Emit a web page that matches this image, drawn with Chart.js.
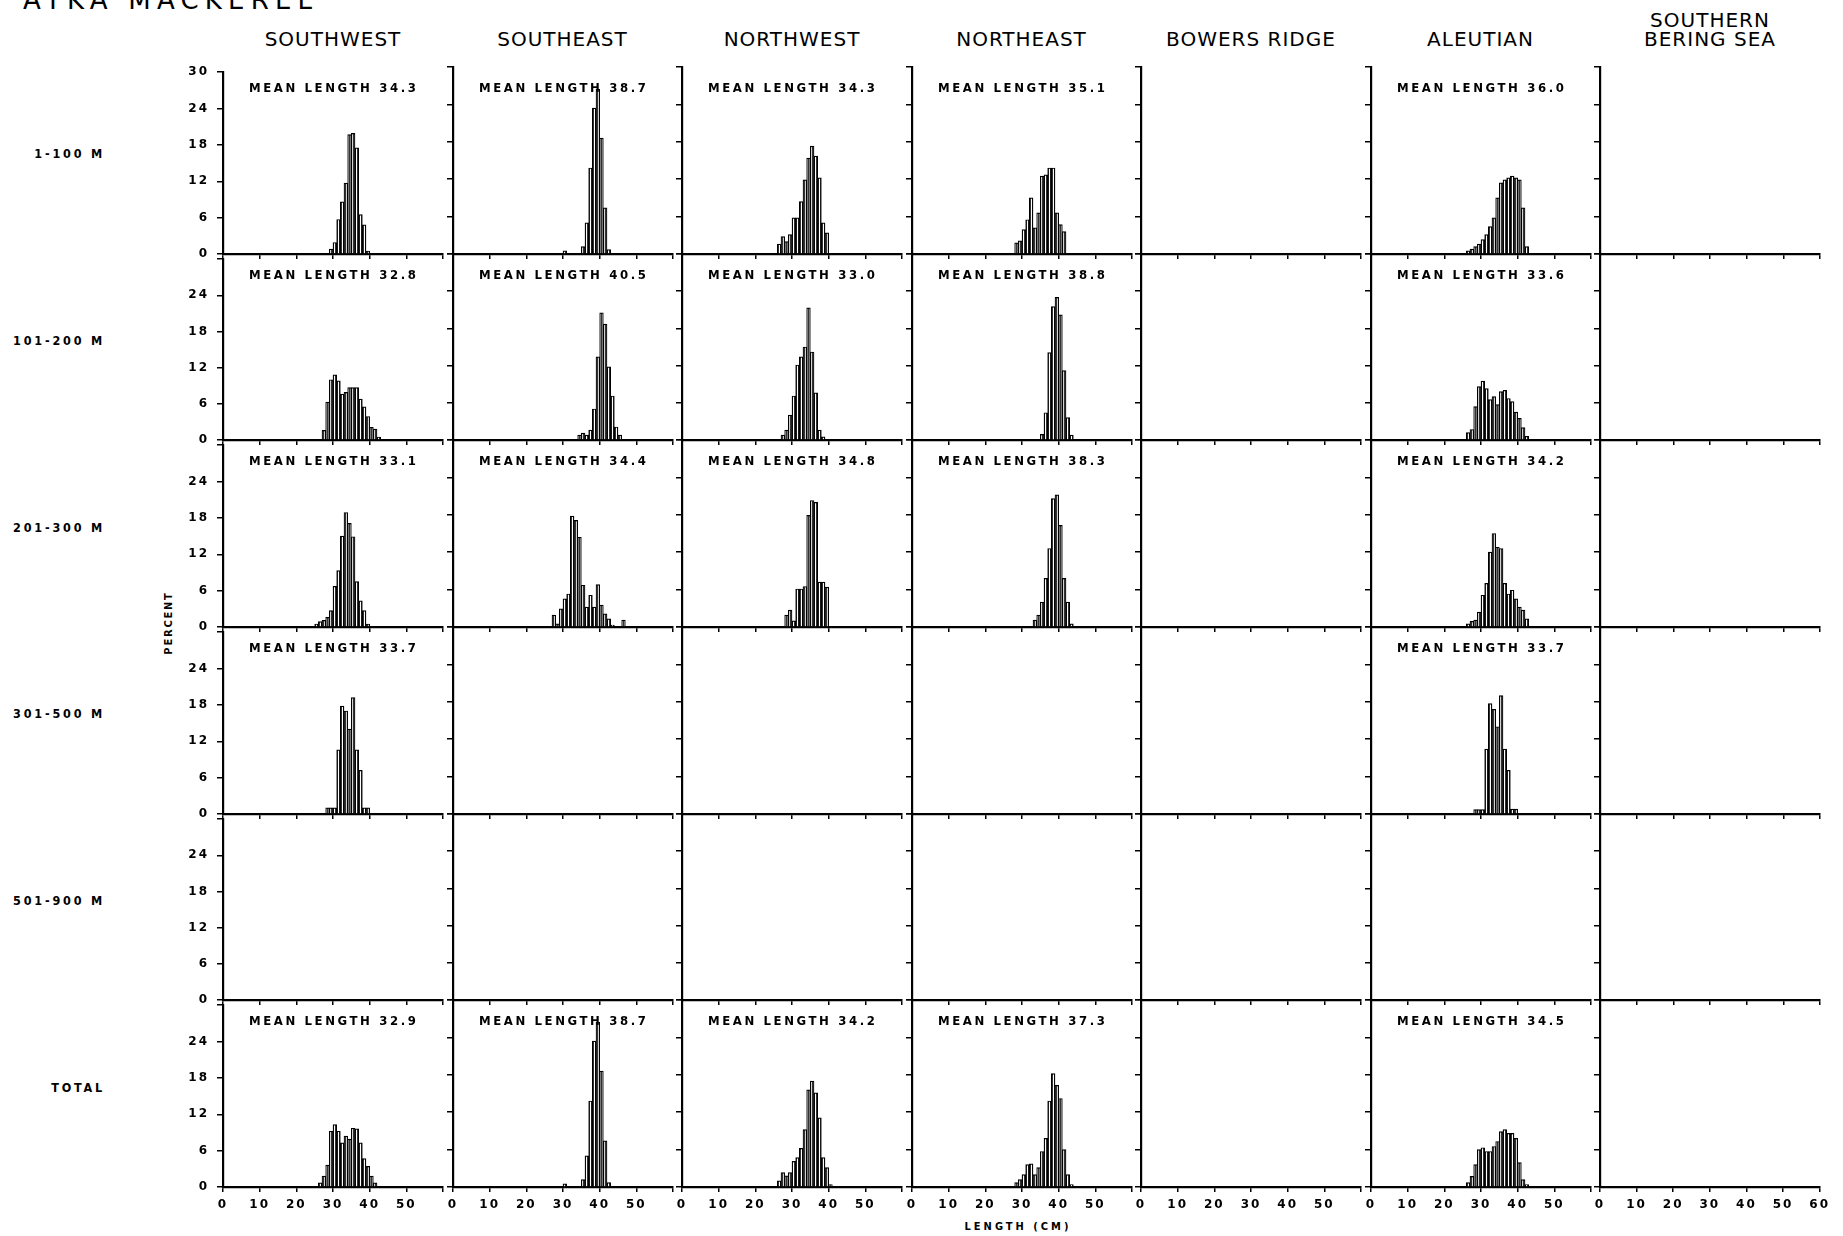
<!DOCTYPE html>
<html>
<head>
<meta charset="utf-8">
<script src="https://cdn.jsdelivr.net/npm/chart.js@4.4.1/dist/chart.umd.min.js"></script>
<style>
  html, body { margin: 0; padding: 0; background: #fff; }
  body { width: 1843px; height: 1236px; position: relative; overflow: hidden; color: #000;
         font-family: 'DejaVu Sans Condensed', 'DejaVu Sans', sans-serif; }
  canvas { position: absolute; }
  .t { position: absolute; white-space: nowrap; line-height: 1; }
  .head { font-family: 'DejaVu Sans', sans-serif; font-size: 20px; letter-spacing: 1px; text-align: center; }
  .small { font-weight: bold; font-size: 12.5px; letter-spacing: 2.8px; }
</style>
</head>
<body>
<script>
// regions (columns) and depth strata (rows)
const regions = ['SOUTHWEST', 'SOUTHEAST', 'NORTHWEST', 'NORTHEAST', 'BOWERS RIDGE', 'ALEUTIAN', 'SOUTHERN\nBERING SEA'];
const depths = ['1-100 M', '101-200 M', '201-300 M', '301-500 M', '501-900 M', 'TOTAL'];
const lengthTicks = [0, 10, 20, 30, 40, 50, 60];
const percentTicks = [0, 6, 12, 18, 24, 30];

// length frequencies: lower bound (cm) of the first 1-cm class, then percent per class
const sw1 = { from: 29, pct: [0.8, 1.9, 5.7, 8.6, 11.7, 19.7, 19.9, 17.5, 6.5, 4.8, 0.5] };
const se1 = { from: 30, pct: [0.5, 0, 0, 0, 0, 1.2, 5.0, 13.8, 23.4, 26.4, 18.6, 7.4, 0.7] };
const nw1 = { from: 26, pct: [1.6, 2.8, 2.0, 3.1, 5.8, 5.8, 8.4, 11.9, 15.4, 17.3, 15.7, 12.2, 5.0, 3.4] };
const ne1 = { from: 28, pct: [1.8, 2.1, 3.9, 5.5, 9.0, 4.2, 6.6, 12.5, 12.7, 13.8, 13.8, 6.6, 4.7, 3.6] };
const al1 = { from: 26, pct: [0.5, 0.8, 1.2, 1.6, 2.3, 3.1, 4.4, 5.8, 9.0, 11.4, 11.9, 12.2, 12.5, 12.2, 11.9, 7.4, 1.2] };

const sw2 = { from: 27, pct: [1.6, 6.3, 10.0, 10.8, 9.8, 7.6, 7.9, 8.7, 8.7, 8.7, 6.8, 5.5, 3.9, 2.1, 1.8, 0.5] };
const se2 = { from: 34, pct: [0.8, 1.1, 0.8, 1.6, 5.0, 13.4, 20.5, 18.7, 11.8, 7.1, 2.1, 0.8] };
const nw2 = { from: 27, pct: [0.8, 1.6, 4.0, 7.1, 12.1, 13.4, 15.0, 21.3, 14.2, 7.6, 1.6, 0.5] };
const ne2 = { from: 35, pct: [0.9, 4.4, 14.1, 21.5, 23.0, 20.2, 11.2, 3.6, 0.8] };
const al2 = { from: 26, pct: [1.2, 1.7, 5.4, 8.6, 9.5, 8.3, 6.5, 7.0, 5.7, 7.8, 8.0, 6.7, 6.2, 4.5, 3.5, 2.0, 0.6] };

const sw3 = { from: 25, pct: [0.5, 0.9, 1.1, 1.6, 2.7, 6.7, 9.3, 15.0, 18.9, 17.1, 14.9, 7.5, 4.3, 2.7, 0.5] };
const se3 = { from: 27, pct: [1.9, 0.5, 2.9, 4.5, 5.3, 17.8, 17.1, 14.4, 6.7, 3.2, 5.1, 3.2, 6.8, 3.5, 2.1, 1.3, 0.3, 0, 0, 1.1] };
const nw3 = { from: 28, pct: [1.9, 2.7, 1.0, 6.1, 6.1, 6.5, 17.9, 20.3, 20.0, 7.2, 7.2, 6.4] };
const ne3 = { from: 33, pct: [1.1, 1.9, 4.0, 7.8, 12.6, 20.6, 21.2, 16.3, 7.8, 4.0, 0.5] };
const al3 = { from: 26, pct: [0.5, 0.9, 1.1, 2.4, 5.1, 7.0, 12.0, 15.0, 12.8, 12.6, 7.0, 5.3, 5.9, 4.5, 3.2, 2.7, 1.3] };

const sw4 = { from: 28, pct: [1.0, 1.0, 1.0, 10.6, 17.8, 17.0, 14.0, 19.2, 10.6, 7.2, 1.0, 1.0] };
const al4 = { from: 28, pct: [0.7, 0.7, 0.7, 10.4, 17.7, 16.8, 14.0, 19.0, 10.4, 7.0, 0.8, 0.8] };

const swT = { from: 26, pct: [0.7, 1.8, 3.6, 9.2, 10.3, 9.2, 7.3, 8.4, 7.9, 9.7, 9.6, 7.3, 4.7, 3.4, 1.8, 0.7] };
const seT = { from: 30, pct: [0.5, 0, 0, 0, 0, 1.2, 5.0, 13.8, 23.4, 26.4, 18.6, 7.4, 0.7] };
const nwT = { from: 26, pct: [1.0, 2.3, 1.8, 2.3, 4.1, 4.7, 6.2, 9.2, 15.6, 17.0, 15.1, 11.1, 4.7, 3.1, 0.4] };
const neT = { from: 28, pct: [0.7, 1.2, 2.0, 3.6, 3.7, 2.0, 3.1, 5.7, 7.8, 13.8, 18.2, 16.3, 14.2, 6.0, 2.0, 0.4] };
const alT = { from: 26, pct: [0.7, 1.7, 3.6, 6.0, 6.3, 5.7, 5.7, 6.5, 7.3, 8.9, 9.2, 8.6, 8.6, 7.8, 3.9, 1.2, 0.4] };

const panels = [
  [sw1, se1, nw1, ne1, null, al1, null],
  [sw2, se2, nw2, ne2, null, al2, null],
  [sw3, se3, nw3, ne3, null, al3, null],
  [sw4, null, null, null, null, al4, null],
  [null, null, null, null, null, null, null],
  [swT, seT, nwT, neT, null, alT, null]
];
const meanLengths = [
  ['34.3', '38.7', '34.3', '35.1', null, '36.0', null],
  ['32.8', '40.5', '33.0', '38.8', null, '33.6', null],
  ['33.1', '34.4', '34.8', '38.3', null, '34.2', null],
  ['33.7', null, null, null, null, '33.7', null],
  [null, null, null, null, null, null, null],
  ['32.9', '38.7', '34.2', '37.3', null, '34.5', null]
];

// page geometry
const X0 = 223, COL_STEP = 229.5, PLOT_W = 220;
const Y0 = 67, ROW_H = 186.67;
const PAD_L = 48, PAD_R = 14, PAD_T = 10, PAD_B = 34;
const tickFont = { family: "'DejaVu Sans', sans-serif", size: 12, weight: 'bold' };

// vertical hatching used inside the bars
const hatchCanvas = document.createElement('canvas');
hatchCanvas.width = 2; hatchCanvas.height = 4;
const hctx = hatchCanvas.getContext('2d');
hctx.fillStyle = '#fff'; hctx.fillRect(0, 0, 2, 4);
hctx.fillStyle = '#333'; hctx.fillRect(0, 0, 1, 4);
const hatch = hctx.createPattern(hatchCanvas, 'repeat');

// spaced-out plotter lettering for the tick labels
const spacedText = {
  id: 'spacedText',
  beforeDraw(chart) { chart.ctx.letterSpacing = '2px'; }
};

function text(str, x, y, cls, anchor, extra) {
  const d = document.createElement('div');
  d.className = 't ' + cls;
  d.textContent = str;
  d.style.left = x + 'px';
  d.style.top = y + 'px';
  d.style.transform = anchor || 'translate(-50%, -50%)';
  if (extra) Object.assign(d.style, extra);
  document.body.appendChild(d);
  return d;
}

// each class is drawn centred in its 1-cm interval
function toPoints(h) {
  if (!h) return [];
  return h.pct.map((p, i) => ({ x: h.from + i + 0.5, y: p }));
}

// title (cut off at the top edge in the original)
text('ATKA MACKEREL', 23, -13, '', 'none', { fontSize: '26px', letterSpacing: '6.2px', fontFamily: "'DejaVu Sans', sans-serif" });

// column headers
regions.forEach((name, c) => {
  const cx = X0 + c * COL_STEP + PLOT_W / 2;
  const d = text(name, cx, name.includes('\n') ? 30 : 39, 'head');
  d.style.whiteSpace = 'pre';
  d.style.lineHeight = '19px';
});

// row labels
depths.forEach((name, r) => {
  const cy = Y0 + (r + 0.5) * ROW_H - 6;
  text(name, 105, cy, 'small', 'translate(-100%, -50%)');
});

text('PERCENT', 168, 623, 'small', 'translate(-50%, -50%) rotate(-90deg)', { fontSize: '11px', letterSpacing: '1.8px' });
text('LENGTH (CM)', 1018, 1226, 'small', 'translate(-50%, -50%)', { fontSize: '11px', letterSpacing: '3px' });

for (let r = 0; r < depths.length; r++) {
  for (let c = 0; c < regions.length; c++) {
    const left = Math.round(X0 + c * COL_STEP);
    const top = Math.round(Y0 + r * ROW_H);
    const h = Math.round(Y0 + (r + 1) * ROW_H) - top;
    const W = PAD_L + PLOT_W + PAD_R, H = PAD_T + h + PAD_B;

    const cv = document.createElement('canvas');
    cv.width = W; cv.height = H;
    cv.style.width = W + 'px'; cv.style.height = H + 'px';
    cv.style.left = (left - PAD_L) + 'px';
    cv.style.top = (top - PAD_T) + 'px';
    document.body.appendChild(cv);

    const bottomRow = r === depths.length - 1;
    const lastCol = c === regions.length - 1;

    new Chart(cv, {
      type: 'bar',
      data: {
        datasets: [{
          data: toPoints(panels[r][c]),
          backgroundColor: hatch,
          borderColor: '#000',
          borderWidth: 1.2,
          barPercentage: 1,
          categoryPercentage: 1
        }]
      },
      plugins: [spacedText],
      options: {
        responsive: false,
        animation: false,
        events: [],
        layout: { padding: { left: 0, top: PAD_T, right: PAD_R, bottom: 0 } },
        plugins: { legend: { display: false }, tooltip: { enabled: false } },
        scales: {
          x: {
            type: 'linear', min: 0, max: 60, offset: false,
            grid: { offset: false, drawOnChartArea: false, tickLength: 5, color: '#000', lineWidth: 1.5 },
            border: { display: true, color: '#000', width: 2.2 },
            afterBuildTicks: s => { s.ticks = lengthTicks.map(v => ({ value: v })); },
            ticks: {
              display: bottomRow, autoSkip: false, maxRotation: 0, padding: 6, color: '#000', font: tickFont,
              callback: v => (v === 60 && !lastCol) ? '' : String(v)
            },
            afterFit: s => { s.height = PAD_B; }
          },
          y: {
            min: 0, max: 30,
            grid: { drawOnChartArea: false, tickLength: 6, color: '#000', lineWidth: 1.5 },
            border: { display: true, color: '#000', width: 2.2 },
            afterBuildTicks: s => { s.ticks = percentTicks.map(v => ({ value: v })); },
            ticks: {
              display: c === 0, padding: 8, color: '#000', font: tickFont,
              callback: v => (v === 30 && r > 0) ? '' : String(v)
            },
            afterFit: s => { s.width = PAD_L; }
          }
        }
      }
    });

    const m = meanLengths[r][c];
    if (m) text('MEAN LENGTH ' + m, left + 26, top + 20, 'small', 'translate(0, -50%)', { fontSize: '13px', letterSpacing: '2.6px' });
  }
}
</script>
</body>
</html>
